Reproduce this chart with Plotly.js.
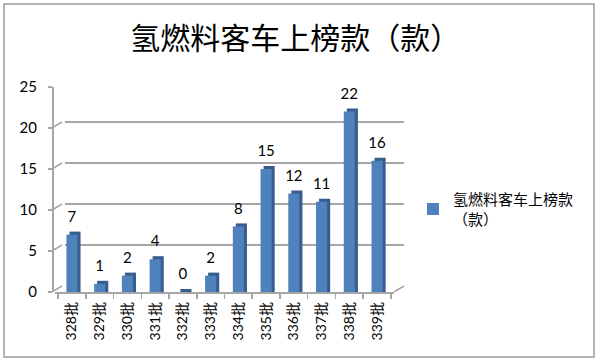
<!DOCTYPE html>
<html>
<head>
<meta charset="utf-8">
<script src="https://cdn.plot.ly/plotly-3.0.1.min.js"></script>
<style>html,body{margin:0;padding:0;background:#fff;}#chart{width:600px;height:363px;}</style>
</head>
<body>
<div id="chart"></div>
<script>
// ---- data ----
const categories = ['328批','329批','330批','331批','332批','333批','334批','335批','336批','337批','338批','339批'];
const values = [7, 1, 2, 4, 0, 2, 8, 15, 12, 11, 22, 16];
const seriesName = '氢燃料客车上榜款<br>（款）';
const chartTitle = '氢燃料客车上榜款（款）';
const yTicks = [0, 5, 10, 15, 20, 25];

// ---- geometry (pixels) ----
const W = 600, H = 363;
const px = v => v / W, py = v => (H - v) / H;
const frontLeft = 52, frontRight = 394, backShiftX = 10, backShiftY = 6;
const frontBottom = 292, frontTop = 87;
const unitPx = (frontBottom - frontTop) / 25;
const depthY = 3 / unitPx;   // top face depth in data units
const labelGap = 6 / unitPx; // gap above bar for value labels
const barW = 0.40, depthX = 0.11;

const frontColor = '#4f81bd', sideColor = '#375d8c';
const gridColor = '#a6a6a6';
const font = 'Lato, "Noto Sans CJK SC", sans-serif';
const cjk = '"Noto Sans CJK SC", sans-serif';

const traces = [
  // back wall (grid only)
  {type: 'scatter', x: [], y: [], xaxis: 'x', yaxis: 'y', showlegend: false, hoverinfo: 'skip'},
  // depth (side / top face)
  {type: 'bar', x: categories, y: values.map(v => v + depthY), xaxis: 'x2', yaxis: 'y2',
   width: barW, offset: -barW / 2 + depthX, marker: {color: sideColor},
   showlegend: false, hoverinfo: 'skip'},
  // front face
  {type: 'bar', name: seriesName, x: categories, y: values, xaxis: 'x2', yaxis: 'y2',
   width: barW, offset: -barW / 2, marker: {color: frontColor}},
  // value labels
  {type: 'scatter', mode: 'text', x: categories, y: values.map(v => v + depthY + labelGap),
   xaxis: 'x2', yaxis: 'y2', text: values.map(String), textposition: 'top center',
   textfont: {family: font, size: 15, color: '#000'}, cliponaxis: false,
   showlegend: false, hoverinfo: 'skip'}
];

const shapes = [];
// connectors from front y axis to back wall
yTicks.forEach(v => {
  shapes.push({type: 'line', xref: 'paper', yref: 'y2',
    x0: px(frontLeft), x1: px(frontLeft + backShiftX),
    y0: v, y1: v + backShiftY / unitPx,
    line: {color: gridColor, width: 1.5}});
});
// right floor edge
shapes.push({type: 'line', xref: 'paper', yref: 'y2',
  x0: px(frontRight), x1: px(frontRight + backShiftX),
  y0: 0, y1: backShiftY / unitPx, line: {color: gridColor, width: 1.5}});
// chart border
shapes.push({type: 'rect', xref: 'paper', yref: 'paper',
  x0: px(4), x1: px(594), y0: py(357), y1: py(4),
  line: {color: '#9a9a9a', width: 1.5}, fillcolor: 'rgba(0,0,0,0)', layer: 'below'});

const layout = {
  width: W, height: H,
  margin: {l: 0, r: 0, t: 0, b: 0},
  paper_bgcolor: '#fff', plot_bgcolor: 'rgba(0,0,0,0)',
  barmode: 'overlay',
  title: {text: chartTitle, x: 0.492, xanchor: 'center', y: py(38), yanchor: 'middle',
          font: {family: cjk, size: 30, color: '#000'}},
  showlegend: true,
  legend: {x: px(413), y: py(183), xanchor: 'left', yanchor: 'top',
           font: {family: cjk, size: 15, color: '#000'},
           bgcolor: 'rgba(0,0,0,0)', itemwidth: 30, tracegroupgap: 0},
  xaxis: {domain: [px(frontLeft + backShiftX + 3), px(frontRight + backShiftX)], anchor: 'y',
          range: [0, 1], showgrid: false, zeroline: false, showticklabels: false, showline: false},
  yaxis: {domain: [py(frontBottom - backShiftY), py(frontTop - backShiftY)], anchor: 'x',
          range: [0, 25], tickvals: yTicks, showgrid: true, gridcolor: gridColor, gridwidth: 1.5,
          zeroline: false, showticklabels: false, showline: false},
  xaxis2: {domain: [px(frontLeft + 3), px(frontRight)], anchor: 'y2', type: 'category',
           showline: true, linecolor: gridColor, linewidth: 1.5,
           ticks: 'outside', tickson: 'boundaries', ticklen: 5, tickcolor: gridColor, tickwidth: 1.5,
           ticklabelstandoff: 3,
           tickangle: -90, tickfont: {family: font, size: 14, color: '#000'}, showgrid: false},
  yaxis2: {domain: [py(frontBottom), py(frontTop)], anchor: 'free', position: px(frontLeft),
           range: [0, 25], tickvals: yTicks, showgrid: false, zeroline: false,
           showline: true, linecolor: gridColor, linewidth: 1.5,
           ticks: 'outside', ticklen: 4, tickcolor: gridColor, tickwidth: 1.5,
           ticklabelstandoff: 8,
           tickfont: {family: font, size: 15, color: '#000'}},
  shapes: shapes
};

Plotly.newPlot('chart', traces, layout, {displayModeBar: false, staticPlot: true});
</script>
</body>
</html>
